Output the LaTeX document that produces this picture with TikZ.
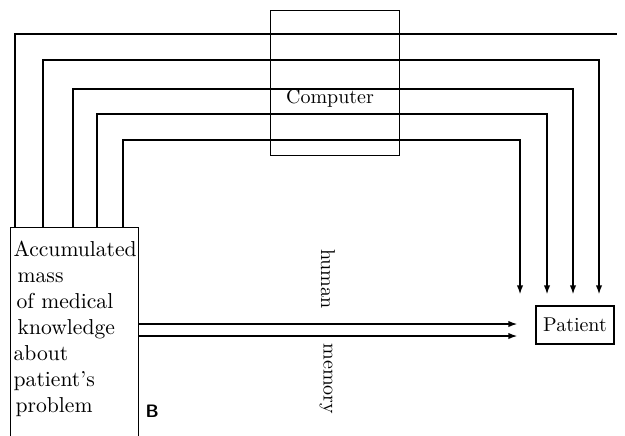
\documentclass[tikz,border=0pt]{standalone}
\usepackage{tikz}
\usetikzlibrary{arrows.meta,positioning,calc}

\begin{document}
\begin{tikzpicture}[x=0.5pt, y=-0.5pt, line width=0.7pt,
    tip/.style={-{Latex[length=4.5pt, width=3.2pt]}},
    panel/.style={draw, inner sep=0pt, anchor=north west},
    word/.style={inner sep=0pt, font=\normalsize}]
  \useasboundingbox (0,0) rectangle (625,435);
  \clip (0,0) rectangle (625,435);

  % Boxes
  \node[panel, minimum width=64pt, minimum height=110pt] (acc) at (10,227) {};
  \node[panel, minimum width=64.5pt, minimum height=72.5pt] (comp) at (270,10) {};
  \node[draw, inner sep=0pt, minimum width=39pt, minimum height=19pt] (pat) at (575,325) {Patient};

  % Texts
  \node[word, anchor=north west, align=left,
        font=\fontsize{10.8}{13}\selectfont] (acctext) at (13,240)
    {Accumulated\\\hspace{2pt}mass\\\hspace{1.5pt}of medical\\\hspace{2pt}knowledge\\about\\patient's\\\hspace{1pt}problem};
  \node[word, anchor=base] (comptext) at (330,103) {Computer};
  \node[word, anchor=base west, font=\sffamily\bfseries\fontsize{9}{10}\selectfont] (blabel) at (145,417) {B};
  \node[word, rotate=-90] (human) at (328,279) {human};
  \node[word, rotate=-90] (memory) at (326,379) {memory};

  % Routes through the computer
  \coordinate (edge) at (617,34);
  \draw (acc.north -| 15,0) |- (edge);
  \foreach \sx/\ly/\ex in {43/60/599, 73/89/573, 97/114/547, 123/140/520}{
    \draw[tip, shorten >=5.5pt] (acc.north -| \sx,0) |- (\ex,\ly) -- (pat.north -| \ex,0);
  }

  % Human memory
  \foreach \ly in {324,336}{
    \draw[tip, shorten >=9pt] (acc.east |- 0,\ly) -- (pat.west |- 0,\ly);
  }
\end{tikzpicture}
\end{document}
